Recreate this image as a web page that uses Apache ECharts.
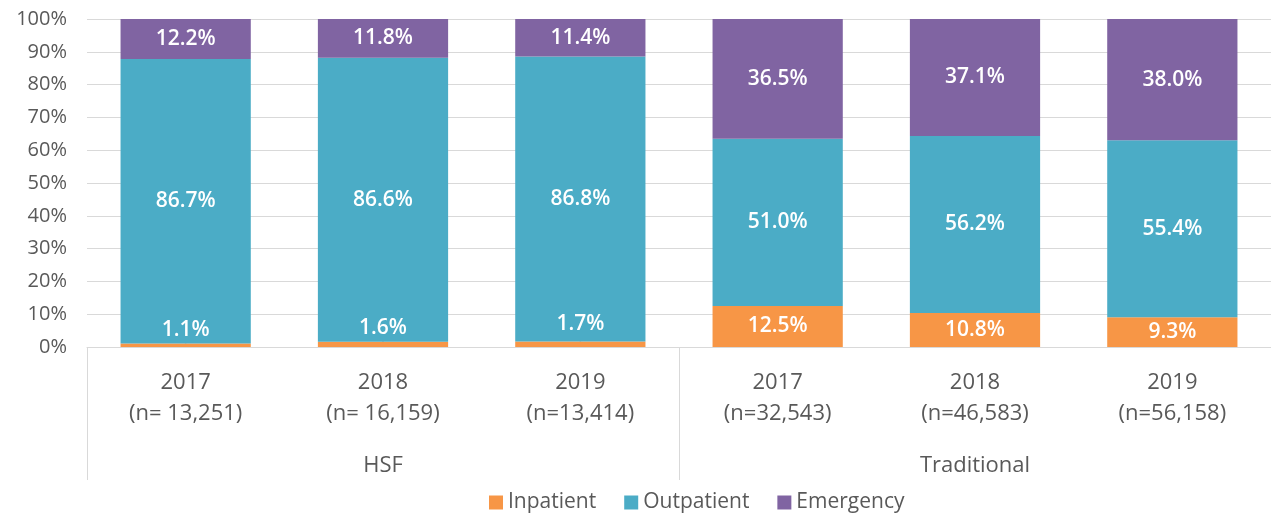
<!DOCTYPE html>
<html>
<head>
<meta charset="utf-8">
<script src="https://cdn.jsdelivr.net/npm/echarts@6/dist/echarts.min.js"></script>
<style>
  html, body { margin: 0; padding: 0; background: #fff; }
  #chart { width: 1271px; height: 514px; }
</style>
</head>
<body>
<div id="chart"></div>
<script>
// categories
const years = ['2017', '2018', '2019', '2017', '2018', '2019'];
const counts = ['(n= 13,251)', '(n= 16,159)', '(n=13,414)', '(n=32,543)', '(n=46,583)', '(n=56,158)'];
const groups = ['HSF', 'Traditional'];

// labelled percentages (as printed in the chart)
const inpatient = [1.1, 1.6, 1.7, 12.5, 10.8, 9.3];
const outpatient = [86.7, 86.6, 86.8, 51.0, 56.2, 55.4];
const emergency = [12.2, 11.8, 11.4, 36.5, 37.1, 38.0];

const yTicks = [0, 10, 20, 30, 40, 50, 60, 70, 80, 90, 100];

const FONT = '"Open Sans", "Noto Sans", sans-serif';

// 100% stacked: bar heights are each value's share of the column total
const totals = inpatient.map((v, i) => v + outpatient[i] + emergency[i]);
const share = arr => arr.map((v, i) => v / totals[i] * 100);

const labelStyle = {
  show: true,
  position: 'inside',
  color: '#fff',
  fontFamily: FONT,
  fontSize: 21,
  fontWeight: 600
};

const inpatientData = share(inpatient).map((v, i) => {
  if (i < 3) {
    // thin HSF slices: label sits just above the bar
    return { value: v, label: { position: 'top', distance: 3 } };
  }
  return v;
});

const chart = echarts.init(document.getElementById('chart'));

chart.setOption({
  animation: false,
  textStyle: { fontFamily: FONT },
  grid: { left: 87, right: 0, top: 19, bottom: 167, containLabel: false },
  legend: {
    top: 487,
    left: 484,
    itemWidth: 14,
    itemHeight: 14,
    itemGap: 28,
    icon: 'rect',
    textStyle: { color: '#595959', fontSize: 21, fontFamily: FONT },
    data: ['Inpatient', 'Outpatient', 'Emergency']
  },
  xAxis: [
    {
      type: 'category',
      data: years.map((y, i) => y + '\n' + counts[i]),
      axisLine: { show: true, lineStyle: { color: '#d9d9d9' } },
      axisTick: { show: false },
      axisLabel: {
        color: '#595959',
        fontSize: 22,
        lineHeight: 31,
        margin: 20,
        fontFamily: FONT
      }
    },
    {
      type: 'category',
      position: 'bottom',
      data: groups,
      axisLine: { show: false },
      axisTick: { show: true, length: 133, lineStyle: { color: '#d9d9d9' } },
      axisLabel: {
        color: '#595959',
        fontSize: 22,
        margin: 108,
        fontFamily: FONT
      }
    }
  ],
  yAxis: {
    type: 'value',
    min: yTicks[0],
    max: yTicks[yTicks.length - 1],
    interval: 10,
    axisLine: { show: false },
    axisTick: { show: false },
    splitLine: { lineStyle: { color: '#d9d9d9' } },
    axisLabel: {
      formatter: '{value}%',
      color: '#595959',
      fontSize: 20,
      margin: 20,
      fontFamily: FONT
    }
  },
  series: [
    {
      name: 'Inpatient',
      type: 'bar',
      stack: 'total',
      barWidth: '66%',
      itemStyle: { color: '#F79646' },
      data: inpatientData,
      label: Object.assign({}, labelStyle, {
        formatter: p => inpatient[p.dataIndex].toFixed(1) + '%'
      }),
      labelLine: { show: true, lineStyle: { color: '#a6a6a6', width: 1.5 } },
      labelLayout: p => (p.dataIndex === 2 ? { dx: 0, dy: -4 } : {})
    },
    {
      name: 'Outpatient',
      type: 'bar',
      stack: 'total',
      itemStyle: { color: '#4BACC6' },
      data: share(outpatient),
      label: Object.assign({}, labelStyle, {
        formatter: p => outpatient[p.dataIndex].toFixed(1) + '%'
      })
    },
    {
      name: 'Emergency',
      type: 'bar',
      stack: 'total',
      itemStyle: { color: '#8064A2' },
      data: share(emergency),
      label: Object.assign({}, labelStyle, {
        formatter: p => emergency[p.dataIndex].toFixed(1) + '%'
      })
    }
  ]
});
</script>
</body>
</html>
